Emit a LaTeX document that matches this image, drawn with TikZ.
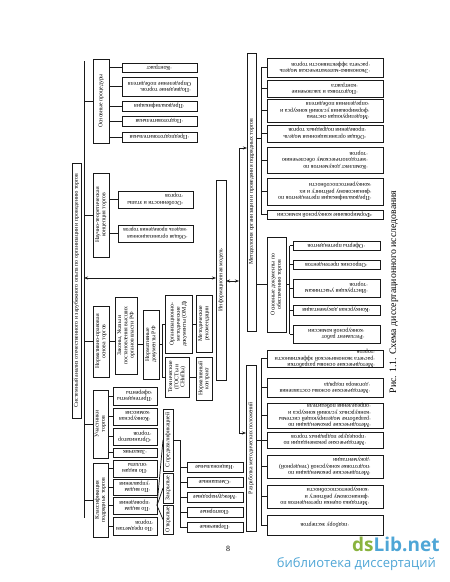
\documentclass[tikz,border=0pt]{standalone}
\usepackage{fontspec}
\setmainfont{Liberation Serif}
\newfontfamily\wmfont{Open Sans}
\usetikzlibrary{arrows.meta}
\definecolor{wmgreen}{HTML}{8AB33F}
\definecolor{wmblue}{HTML}{4FA6D6}
\tikzset{
 boxst/.style={draw=black!90, line width=0.7pt, inner sep=0pt, outer sep=0pt, rectangle},
 vtxt/.style={rotate=90, font=\fontsize{5.8}{6.2}\selectfont, align=center, inner sep=0pt},
 ltxt/.style={rotate=180, font=\fontsize{5.9}{6.3}\selectfont, align=left, inner sep=0pt},
 link/.style={draw=black!90, line width=0.7pt},
 arr/.style={link, -{Stealth[length=4pt,width=3pt]}},
 darr/.style={link, {Stealth[length=4pt,width=3pt]}-{Stealth[length=4pt,width=3pt]}},
}
\newcommand\mkbox[5]{\node[boxst, minimum width={(#4-#2)*1pt}, minimum height={(#5-#3)*1pt}] (#1) at ({(#2+#4)/2},{(#3+#5)/2}) {};}
\newcommand\vb[6]{\mkbox{#1}{#2}{#3}{#4}{#5}\node[vtxt] (#1-t) at (#1.center) {#6};}
\newcommand\lf[6]{\mkbox{#1}{#2}{#3}{#4}{#5}\node[ltxt] (#1-t) at (#1.center) {#6};}
\begin{document}
\begin{tikzpicture}[x=1pt,y=-1pt]
\useasboundingbox (0,0) rectangle (450,582);
\clip (0,0) rectangle (450,582);
\fill[white] (0,0) rectangle (450,582);
% ---------- left column ----------
\vb{sys}{72}{163}{81}{418}{Системный анализ отечественного и зарубежного опыта по организации и проведению торгов}
\coordinate (mtop) at (84,61);
\coordinate (mbot) at (84,518);
\draw[link] (mtop) -- (mbot);
\vb{proc}{93}{59}{109}{143}{Основные процедуры}
\lf{l1}{122}{63}{197}{72}{·Контракт}
\lf{l2}{122}{77}{197}{96}{·Подведение торгов.\\Определение победителя}
\lf{l3}{122}{101}{197}{111}{·Предквалификация}
\lf{l4}{122}{116}{197}{126}{·Подготовительная}
\lf{l5}{122}{132}{197}{142}{·Предподготовительная}
\vb{sci}{93}{173}{109}{257}{Научно-теоретическая\\концепция торгов}
\lf{s1}{118}{191}{193}{208}{·Особенности и этапы\\·торгов}
\lf{s2}{118}{225}{193}{242}{\fontsize{5.6}{6.3}\selectfont·Общая организационная\\\fontsize{5.6}{6.3}\selectfont·модель проведения торгов}
\vb{norm}{93}{306}{109}{377}{Нормативно-правовая\\основа торгов}
\vb{law}{115}{297}{137}{374}{Законы, Указы и\\постановления высших\\органов власти РФ}
\vb{ndoc}{143}{310}{159}{379}{Нормативные\\документы РФ}
\vb{omd}{165}{295}{192}{353}{Организационно-\\методические\\документы (ОМД)}
\vb{mrec}{196}{295}{212}{352}{Методические\\рекомендации}
\vb{tech}{165}{357}{189}{397}{Технические\\(ГОСТы и\\СНиПы)}
\vb{ncon}{196}{357}{212}{400}{Нормативный\\контракт}
\vb{part}{93}{390}{108}{458}{Участники\\торгов}
\lf{p1}{113}{387}{157}{405}{·Претенденты\\·оференты}
\lf{p2}{113}{408}{157}{425}{·Конкурсная\\·комиссия}
\lf{p3}{113}{428}{157}{445}{·Организатор\\·торгов}
\lf{p4}{113}{448}{157}{457}{·Заказчик}
\vb{cls}{93}{463}{108}{537}{Классификация\\подрядных торгов}
\lf{c1}{113}{460}{157}{477}{·По видам\\·оплаты}
\lf{c2}{113}{479}{157}{495}{·По видам\\·управления}
\lf{c3}{113}{497}{157}{514}{·По видам\\·проведения}
\lf{c4}{113}{517}{157}{535}{·По предметам\\·торгов}
\vb{pq}{163}{409}{173}{471}{С предквалификацией}
\vb{cl}{163}{473}{173}{503}{Закрытые}
\vb{op}{163}{505}{173}{534}{Открытые}
\lf{n1}{187}{462}{243}{472}{·Национальные}
\lf{n2}{187}{477}{243}{487}{·Смешанные}
\lf{n3}{187}{492}{243}{502}{·Международные}
\lf{n4}{187}{507}{243}{517}{·Повторные}
\lf{n5}{187}{522}{243}{532}{·Первичные}
% left connectors
\foreach \b in {proc,sci,norm,part,cls} \draw[link] (mtop |- \b.west) -- (\b.west);
\foreach \n in {l1,l2,l3,l4,l5} \draw[link] (proc.east |- \n.west) -- (\n.west);
\foreach \n in {s1,s2} \draw[link] (sci.east |- \n.west) -- (\n.west);
\foreach \n in {p1,p2,p3,p4} \draw[link] (part.east |- \n.west) -- (\n.west);
\foreach \n in {c1,c2,c3,c4} \draw[link] (cls.east |- \n.west) -- (\n.west);
\draw[link] (norm.east) -- (law.west |- norm.east);
\draw[link] (ndoc.west -| law.east) -- (ndoc.west);
\draw[link] (ndoc.east) -- ++(3,0) coordinate (nbr);
\draw[link] (nbr |- omd.west) -- (nbr |- tech.west);
\draw[link] (nbr |- omd.west) -- (omd.west);
\draw[link] (nbr |- tech.west) -- (tech.west);
\draw[link] (omd.east) -- (mrec.west |- omd.east);
\draw[link] (tech.east) -- (ncon.west |- tech.east);
\foreach \b in {pq,cl,op} \draw[link] (c3.east) -- (\b.west);
\draw[link] (pq.east) -- ++(7,0) coordinate (kb);
\draw[link] (kb) -- (kb |- n5.west);
\foreach \n in {n1,n2,n3,n4,n5} \draw[link] (kb |- \n.west) -- (\n.west);
% ---------- centre ----------
\vb{info}{216}{180}{226}{380}{Информационная модель}
\coordinate (ia) at (84,278);
\draw[darr] (ia) -- (info.west |- ia);
\coordinate (rltop) at (239,148);
\coordinate (rlbot) at (239,433);
\coordinate (ib) at (232,281);
\draw[link] (rltop) -- (rlbot);
\draw[darr] (info.east |- ib) -- (rltop |- ib);
% ---------- right column ----------
\vb{meth}{247}{53}{256}{331}{Методология организации и проведения подрядных торгов}
\vb{dev}{246}{365}{256}{531}{Разработка методических положений}
\draw[arr] (rltop) -- (meth.west |- rltop);
\draw[arr] (rlbot) -- (dev.west |- rlbot);
\lf{r1}{267}{58}{383}{77}{·Экономико-математическая модель\\·расчета эффективности торгов}
\lf{r2}{267}{80}{383}{97}{·Подготовка и заключение\\·контракта}
\lf{r3}{267}{99}{383}{122}{·Моделирующая система\\·формирования условий конкурса и\\·определения победителя}
\lf{r4}{267}{125}{383}{142}{·Общая организационная модель\\·проведения подрядных торгов}
\lf{r5}{267}{147}{383}{173}{·Комплект документов по\\·методологическому обеспечению\\·торгов}
\lf{r6}{267}{178}{383}{205}{·Предквалификация претендентов по\\·финансовому рейтингу и их\\·конкурентоспособности}
\lf{r7}{267}{210}{383}{219}{·Формирование конкурсной комиссии}
\coordinate (mbj) at (261,138);
\draw[link] (meth.east |- mbj) -- (mbj);
\draw[link] (mbj |- r1.west) -- (mbj |- r7.west);
\foreach \n in {r1,r2,r3,r4,r5,r6,r7} \draw[link] (mbj |- \n.west) -- (\n.west);
\vb{odoc}{267}{237}{286}{332}{Основные документы по\\обеспечению торгов}
\draw[link] (meth.east |- odoc.west) -- (odoc.west);
\lf{d1}{293}{241}{380}{250}{·Оферты претендентов}
\lf{d2}{293}{260}{380}{269}{·Опросник претендентов}
\lf{d3}{293}{279}{380}{297}{·Инструкция участникам\\·торгов}
\lf{d4}{293}{305}{380}{315}{·Конкурсная документация}
\lf{d5}{293}{325}{380}{343}{·Регламент работ\\·конкурсной комиссии}
\draw[link] (odoc.east) -- ++(3.5,0) coordinate (ob);
\draw[link] (ob |- d1.west) -- (ob |- d5.west);
\foreach \n in {d1,d2,d3,d4,d5} \draw[link] (ob |- \n.west) -- (\n.west);
\lf{e1}{267}{350}{383}{367}{·Методические основы разработки\\·расчета экономической эффективности\\·торгов}
\lf{e2}{267}{378}{383}{397}{·Методические основы составления\\·договора подряда}
\lf{e3}{267}{403}{383}{428}{·Методические рекомендации по\\·разработке моделирующей системы\\·конкурсных условий конкурса и\\·определения победителя}
\lf{e4}{267}{432}{383}{448}{·Методические рекомендации по\\·процедуре подрядных торгов}
\lf{e5}{267}{455}{383}{478}{·Методические рекомендации по\\·подготовке конкурсной (тендерной)\\·документации}
\lf{e6}{267}{485}{383}{508}{·Методика оценки претендентов по\\·финансовому рейтингу и\\·конкурентоспособности}
\lf{e7}{267}{515}{383}{535}{·подбору экспертов}
\coordinate (db) at (261,440);
\draw[link] (dev.east |- db) -- (db);
\draw[link] (db |- e1.west) -- (db |- e7.west);
\foreach \n in {e1,e2,e3,e4,e5,e6,e7} \draw[link] (db |- \n.west) -- (\n.west);
% ---------- caption, page number, watermark ----------
\node[rotate=90, font=\fontsize{9.8}{11}\selectfont, inner sep=0pt] (cap) at (394,292) {Рис. 1.1. Схема диссертационного исследования};
\node[font=\fontsize{8}{9}\selectfont, inner sep=0pt] (pg) at (228,549) {8};
\node[font=\wmfont\bfseries\fontsize{19}{21}\selectfont, anchor=base west, inner sep=0pt] (wm1) at (352,551) {\textcolor{wmgreen}{ds}\textcolor{wmblue}{Lib.net}};
\node[font=\wmfont\fontsize{13}{15}\selectfont, text=wmblue, anchor=base east, inner sep=0pt] (wm2) at (436,567) {библиотека диссертаций};
\end{tikzpicture}
\end{document}
